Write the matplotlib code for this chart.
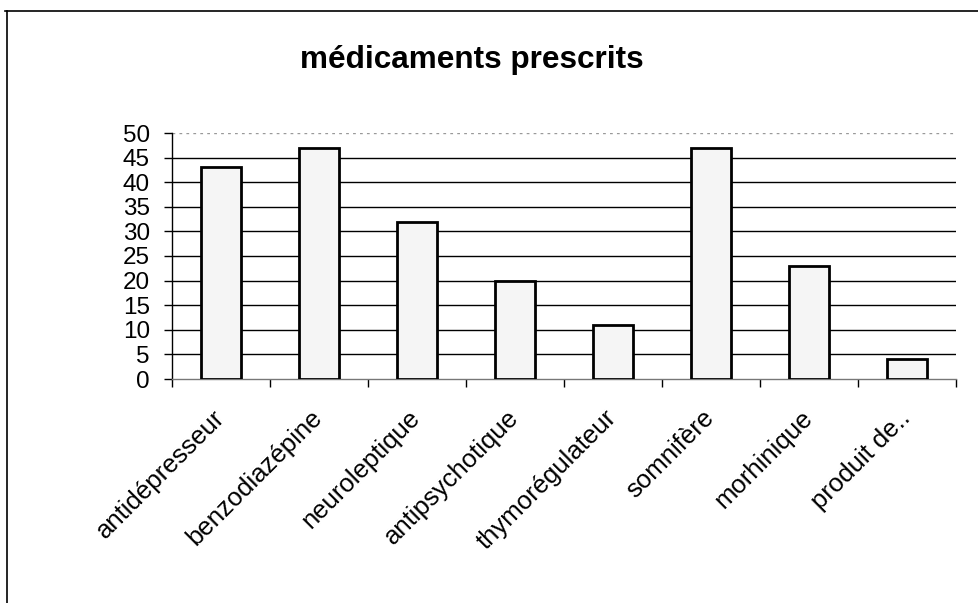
import matplotlib
matplotlib.use("Agg")
import matplotlib.pyplot as plt
from matplotlib.lines import Line2D
from matplotlib.transforms import ScaledTranslation

categories = ["antidépresseur", "benzodiazépine", "neuroleptique", "antipsychotique",
              "thymorégulateur", "somnifère", "morhinique", "produit de.."]
values = [43, 47, 32, 20, 11, 47, 23, 4]
yticks = [0, 5, 10, 15, 20, 25, 30, 35, 40, 45, 50]
title = "médicaments prescrits"

plt.rcParams['font.family'] = ['Liberation Sans', 'DejaVu Sans']

fig = plt.figure(figsize=(9.79, 6.03), dpi=100)
ax = fig.add_axes([172/979, 1 - 379/603, (956 - 172)/979, (379 - 133)/603])

x = list(range(len(categories)))
ax.bar(x, values, width=0.4, color="#f5f5f5", edgecolor="black", linewidth=2, zorder=3)

ax.set_xlim(-0.5, len(categories) - 0.5)
ax.set_ylim(0, 50)
ax.set_yticks(yticks)
ax.set_yticklabels([str(t) for t in yticks], fontsize=17.5)

for t in yticks[1:-1]:
    ax.axhline(t, color="black", linewidth=1, zorder=1)
ax.axhline(50, color="#999999", linewidth=1, linestyle=(0, (2, 3)), zorder=1)

ax.set_xticks([i + 0.5 for i in x[:-1]] + [-0.5, len(categories) - 0.5], minor=True)
ax.set_xticks(x)
ax.set_xticklabels(categories, fontsize=18.5, rotation=45, ha="right", va="top",
                   rotation_mode="anchor")
ax.tick_params(axis="x", which="major", length=0, pad=22)
ax.tick_params(axis="x", which="minor", length=6, width=1, direction="out", color="black")
ax.tick_params(axis="y", length=6, width=1, direction="out", pad=10)

off = ScaledTranslation(-9/100, 4/100, fig.dpi_scale_trans)
for lab in ax.get_xticklabels():
    lab.set_transform(lab.get_transform() + off)

for s in ["top", "right"]:
    ax.spines[s].set_visible(False)
ax.spines["left"].set_linewidth(1)
ax.spines["bottom"].set_color("#777777")
ax.spines["bottom"].set_linewidth(1)

fig.text(472/979, 1 - 60/603, title, ha="center", va="center", fontsize=22.7, fontweight="bold")

fig.add_artist(Line2D([7/979, 7/979], [0, 1 - 11/603], color="black", linewidth=1.2,
                      transform=fig.transFigure))
fig.add_artist(Line2D([5/979, 1], [1 - 11/603, 1 - 11/603], color="black", linewidth=1.2,
                      transform=fig.transFigure))

fig.savefig("out.png", dpi=100)
